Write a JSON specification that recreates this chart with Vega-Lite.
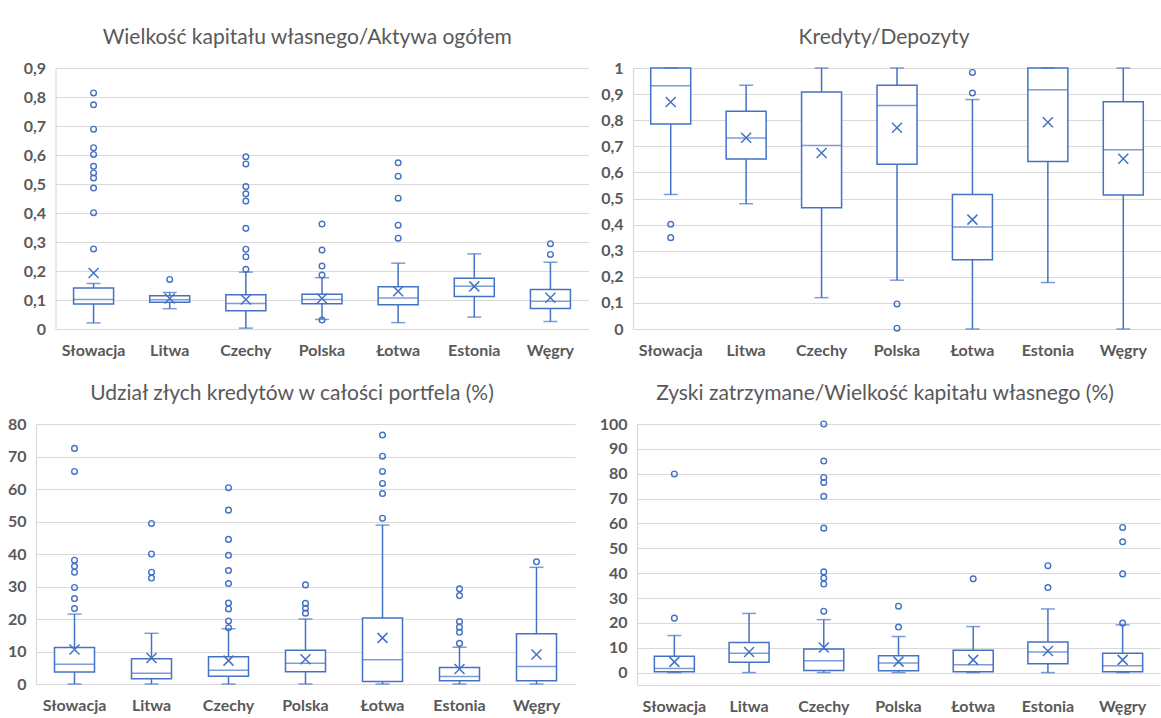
{
  "$schema": "https://vega.github.io/schema/vega-lite/v6.json",
  "background": "white",
  "padding": {"top": 27, "left": 0, "right": 0, "bottom": 0},
  "columns": 1,
  "align": "none",
  "spacing": 14,
  "datasets": {
    "b1": [
      {"country": "Słowacja", "lo": 0.021, "q1": 0.086, "med": 0.102, "q3": 0.141, "hi": 0.157, "mean": 0.193},
      {"country": "Litwa", "lo": 0.070, "q1": 0.092, "med": 0.101, "q3": 0.115, "hi": 0.126, "mean": 0.105},
      {"country": "Czechy", "lo": 0.003, "q1": 0.063, "med": 0.088, "q3": 0.118, "hi": 0.196, "mean": 0.102},
      {"country": "Polska", "lo": 0.033, "q1": 0.087, "med": 0.102, "q3": 0.120, "hi": 0.177, "mean": 0.105},
      {"country": "Łotwa", "lo": 0.022, "q1": 0.084, "med": 0.107, "q3": 0.146, "hi": 0.227, "mean": 0.130},
      {"country": "Estonia", "lo": 0.041, "q1": 0.112, "med": 0.147, "q3": 0.175, "hi": 0.259, "mean": 0.147},
      {"country": "Węgry", "lo": 0.026, "q1": 0.071, "med": 0.096, "q3": 0.136, "hi": 0.230, "mean": 0.108}
    ],
    "o1": [
      {"country": "Słowacja", "v": 0.814}, {"country": "Słowacja", "v": 0.773}, {"country": "Słowacja", "v": 0.689},
      {"country": "Słowacja", "v": 0.625}, {"country": "Słowacja", "v": 0.602}, {"country": "Słowacja", "v": 0.561},
      {"country": "Słowacja", "v": 0.538}, {"country": "Słowacja", "v": 0.521}, {"country": "Słowacja", "v": 0.486},
      {"country": "Słowacja", "v": 0.401}, {"country": "Słowacja", "v": 0.276},
      {"country": "Litwa", "v": 0.171},
      {"country": "Czechy", "v": 0.594}, {"country": "Czechy", "v": 0.569}, {"country": "Czechy", "v": 0.491},
      {"country": "Czechy", "v": 0.466}, {"country": "Czechy", "v": 0.441}, {"country": "Czechy", "v": 0.347},
      {"country": "Czechy", "v": 0.275}, {"country": "Czechy", "v": 0.249}, {"country": "Czechy", "v": 0.206},
      {"country": "Polska", "v": 0.362}, {"country": "Polska", "v": 0.272}, {"country": "Polska", "v": 0.217},
      {"country": "Polska", "v": 0.186}, {"country": "Polska", "v": 0.031},
      {"country": "Łotwa", "v": 0.573}, {"country": "Łotwa", "v": 0.527}, {"country": "Łotwa", "v": 0.451},
      {"country": "Łotwa", "v": 0.358}, {"country": "Łotwa", "v": 0.313},
      {"country": "Węgry", "v": 0.294}, {"country": "Węgry", "v": 0.257}
    ],
    "b2": [
      {"country": "Słowacja", "lo": 0.515, "q1": 0.785, "med": 0.932, "q3": 1.0, "hi": 1.0, "mean": 0.870},
      {"country": "Litwa", "lo": 0.480, "q1": 0.651, "med": 0.732, "q3": 0.834, "hi": 0.934, "mean": 0.733},
      {"country": "Czechy", "lo": 0.120, "q1": 0.465, "med": 0.703, "q3": 0.908, "hi": 1.0, "mean": 0.674},
      {"country": "Polska", "lo": 0.187, "q1": 0.631, "med": 0.856, "q3": 0.934, "hi": 1.0, "mean": 0.771},
      {"country": "Łotwa", "lo": 0.0, "q1": 0.265, "med": 0.391, "q3": 0.515, "hi": 0.879, "mean": 0.419},
      {"country": "Estonia", "lo": 0.178, "q1": 0.642, "med": 0.917, "q3": 1.0, "hi": 1.0, "mean": 0.792},
      {"country": "Węgry", "lo": 0.0, "q1": 0.513, "med": 0.687, "q3": 0.871, "hi": 1.0, "mean": 0.652}
    ],
    "o2": [
      {"country": "Słowacja", "v": 0.401}, {"country": "Słowacja", "v": 0.350},
      {"country": "Polska", "v": 0.096}, {"country": "Polska", "v": 0.003},
      {"country": "Łotwa", "v": 0.983}, {"country": "Łotwa", "v": 0.904}
    ],
    "b3": [
      {"country": "Słowacja", "lo": 0, "q1": 3.7, "med": 6.1, "q3": 11.2, "hi": 21.5, "mean": 10.6},
      {"country": "Litwa", "lo": 0, "q1": 1.6, "med": 3.3, "q3": 7.8, "hi": 15.6, "mean": 8.0},
      {"country": "Czechy", "lo": 0, "q1": 2.4, "med": 4.2, "q3": 8.4, "hi": 17.0, "mean": 7.2},
      {"country": "Polska", "lo": 0, "q1": 3.8, "med": 6.4, "q3": 10.4, "hi": 20.0, "mean": 7.6},
      {"country": "Łotwa", "lo": 0, "q1": 0.8, "med": 7.5, "q3": 20.3, "hi": 48.9, "mean": 14.2},
      {"country": "Estonia", "lo": 0, "q1": 1.0, "med": 2.3, "q3": 5.1, "hi": 11.3, "mean": 4.6},
      {"country": "Węgry", "lo": 0, "q1": 1.0, "med": 5.4, "q3": 15.5, "hi": 35.9, "mean": 9.1}
    ],
    "o3": [
      {"country": "Słowacja", "v": 72.5}, {"country": "Słowacja", "v": 65.4}, {"country": "Słowacja", "v": 38.1},
      {"country": "Słowacja", "v": 36.2}, {"country": "Słowacja", "v": 34.4}, {"country": "Słowacja", "v": 29.7},
      {"country": "Słowacja", "v": 26.3}, {"country": "Słowacja", "v": 23.2},
      {"country": "Litwa", "v": 49.4}, {"country": "Litwa", "v": 40.0}, {"country": "Litwa", "v": 34.4}, {"country": "Litwa", "v": 32.6},
      {"country": "Czechy", "v": 60.4}, {"country": "Czechy", "v": 53.5}, {"country": "Czechy", "v": 44.5},
      {"country": "Czechy", "v": 39.6}, {"country": "Czechy", "v": 34.9}, {"country": "Czechy", "v": 30.9},
      {"country": "Czechy", "v": 24.9}, {"country": "Czechy", "v": 23.1}, {"country": "Czechy", "v": 19.4},
      {"country": "Czechy", "v": 17.3},
      {"country": "Polska", "v": 30.5}, {"country": "Polska", "v": 24.8}, {"country": "Polska", "v": 23.3}, {"country": "Polska", "v": 21.8},
      {"country": "Łotwa", "v": 76.6}, {"country": "Łotwa", "v": 70.1}, {"country": "Łotwa", "v": 65.4},
      {"country": "Łotwa", "v": 61.7}, {"country": "Łotwa", "v": 58.6}, {"country": "Łotwa", "v": 51.0},
      {"country": "Estonia", "v": 29.3}, {"country": "Estonia", "v": 27.2}, {"country": "Estonia", "v": 19.2},
      {"country": "Estonia", "v": 17.5}, {"country": "Estonia", "v": 15.9}, {"country": "Estonia", "v": 12.5},
      {"country": "Węgry", "v": 37.6}
    ],
    "b4": [
      {"country": "Słowacja", "lo": 0, "q1": 0.3, "med": 1.6, "q3": 6.6, "hi": 14.9, "mean": 4.3},
      {"country": "Litwa", "lo": 0, "q1": 4.2, "med": 7.8, "q3": 12.1, "hi": 23.8, "mean": 8.3},
      {"country": "Czechy", "lo": 0, "q1": 0.8, "med": 4.8, "q3": 9.5, "hi": 21.3, "mean": 10.1},
      {"country": "Polska", "lo": 0, "q1": 0.7, "med": 3.9, "q3": 6.8, "hi": 14.5, "mean": 4.4},
      {"country": "Łotwa", "lo": 0, "q1": 0.3, "med": 3.1, "q3": 9.0, "hi": 18.5, "mean": 5.1},
      {"country": "Estonia", "lo": 0, "q1": 3.5, "med": 8.3, "q3": 12.3, "hi": 25.6, "mean": 8.7},
      {"country": "Węgry", "lo": 0, "q1": 0.3, "med": 2.7, "q3": 7.8, "hi": 19.2, "mean": 5.1}
    ],
    "o4": [
      {"country": "Słowacja", "v": 79.9}, {"country": "Słowacja", "v": 21.9},
      {"country": "Czechy", "v": 100}, {"country": "Czechy", "v": 85.1}, {"country": "Czechy", "v": 78.5},
      {"country": "Czechy", "v": 76.5}, {"country": "Czechy", "v": 70.9}, {"country": "Czechy", "v": 58.1},
      {"country": "Czechy", "v": 40.5}, {"country": "Czechy", "v": 38.0}, {"country": "Czechy", "v": 35.6},
      {"country": "Czechy", "v": 24.7},
      {"country": "Polska", "v": 26.7}, {"country": "Polska", "v": 18.3},
      {"country": "Łotwa", "v": 37.7},
      {"country": "Estonia", "v": 43.0}, {"country": "Estonia", "v": 34.2},
      {"country": "Węgry", "v": 58.4}, {"country": "Węgry", "v": 52.6}, {"country": "Węgry", "v": 39.7}, {"country": "Węgry", "v": 19.9}
    ]
  },
  "concat": [
    {
      "spacing": 10,
      "hconcat": [
        {
          "width": 552.5, "height": 261,
          "title": {"text": "Wielkość kapitału własnego/Aktywa ogółem", "dx": -5},
          "layer": [
            {"data": {"name": "b1"}, "mark": {"type": "rule", "color": "#4472C4", "strokeWidth": 1.5},
             "encoding": {
               "x": {"field": "country", "type": "nominal", "title": null, "scale": {"domain": ["Słowacja", "Litwa", "Czechy", "Polska", "Łotwa", "Estonia", "Węgry"], "range": [19.5, 552.5], "paddingInner": 0, "paddingOuter": 0}},
               "y": {"field": "lo", "type": "quantitative", "title": null, "scale": {"domain": [0, 0.9], "nice": false, "zero": false},
                     "axis": {"values": [0, 0.1, 0.2, 0.3, 0.4, 0.5, 0.6, 0.7, 0.8, 0.9], "offset": -19.5, "labelOverlap": false, "labelExpr": "replace(format(datum.value, '.1~f'), '.', ',')"}},
               "y2": {"field": "hi"}}},
            {"data": {"name": "b1"}, "mark": {"type": "bar", "width": 40, "fill": "white", "stroke": "#4472C4", "strokeWidth": 1.5},
             "encoding": {"x": {"field": "country", "type": "nominal", "title": null}, "y": {"field": "q1", "type": "quantitative", "title": null,
                     "axis": {"values": [0, 0.1, 0.2, 0.3, 0.4, 0.5, 0.6, 0.7, 0.8, 0.9], "offset": -19.5, "labelOverlap": false, "labelExpr": "replace(format(datum.value, '.1~f'), '.', ',')"}}, "y2": {"field": "q3"}}},
            {"data": {"name": "b1"}, "mark": {"type": "tick", "size": 40, "thickness": 1.5, "color": "#4472C4"},
             "encoding": {"x": {"field": "country", "type": "nominal", "title": null}, "y": {"field": "med", "type": "quantitative", "title": null,
                     "axis": {"values": [0, 0.1, 0.2, 0.3, 0.4, 0.5, 0.6, 0.7, 0.8, 0.9], "offset": -19.5, "labelOverlap": false, "labelExpr": "replace(format(datum.value, '.1~f'), '.', ',')"}}}},
            {"data": {"name": "b1"}, "mark": {"type": "tick", "size": 14, "thickness": 1.5, "color": "#4472C4"},
             "encoding": {"x": {"field": "country", "type": "nominal", "title": null}, "y": {"field": "lo", "type": "quantitative", "title": null,
                     "axis": {"values": [0, 0.1, 0.2, 0.3, 0.4, 0.5, 0.6, 0.7, 0.8, 0.9], "offset": -19.5, "labelOverlap": false, "labelExpr": "replace(format(datum.value, '.1~f'), '.', ',')"}}}},
            {"data": {"name": "b1"}, "mark": {"type": "tick", "size": 14, "thickness": 1.5, "color": "#4472C4"},
             "encoding": {"x": {"field": "country", "type": "nominal", "title": null}, "y": {"field": "hi", "type": "quantitative", "title": null,
                     "axis": {"values": [0, 0.1, 0.2, 0.3, 0.4, 0.5, 0.6, 0.7, 0.8, 0.9], "offset": -19.5, "labelOverlap": false, "labelExpr": "replace(format(datum.value, '.1~f'), '.', ',')"}}}},
            {"data": {"name": "b1"}, "mark": {"type": "point", "shape": "M-1,-1L1,1M-1,1L1,-1", "size": 100, "filled": false, "strokeWidth": 1.5, "color": "#4472C4", "opacity": 1},
             "encoding": {"x": {"field": "country", "type": "nominal", "title": null}, "y": {"field": "mean", "type": "quantitative", "title": null,
                     "axis": {"values": [0, 0.1, 0.2, 0.3, 0.4, 0.5, 0.6, 0.7, 0.8, 0.9], "offset": -19.5, "labelOverlap": false, "labelExpr": "replace(format(datum.value, '.1~f'), '.', ',')"}}}},
            {"data": {"name": "o1"}, "mark": {"type": "point", "shape": "circle", "size": 32, "filled": false, "strokeWidth": 1.4, "color": "#4472C4", "opacity": 1},
             "encoding": {"x": {"field": "country", "type": "nominal", "title": null}, "y": {"field": "v", "type": "quantitative", "title": null,
                     "axis": {"values": [0, 0.1, 0.2, 0.3, 0.4, 0.5, 0.6, 0.7, 0.8, 0.9], "offset": -19.5, "labelOverlap": false, "labelExpr": "replace(format(datum.value, '.1~f'), '.', ',')"}}}}
          ]
        },
        {
          "width": 528, "height": 261,
          "title": {"text": "Kredyty/Depozyty", "dx": -13},
          "layer": [
            {"data": {"name": "b2"}, "mark": {"type": "rule", "color": "#4472C4", "strokeWidth": 1.5},
             "encoding": {
               "x": {"field": "country", "type": "nominal", "title": null, "scale": {"domain": ["Słowacja", "Litwa", "Czechy", "Polska", "Łotwa", "Estonia", "Węgry"], "paddingInner": 0, "paddingOuter": 0}},
               "y": {"field": "lo", "type": "quantitative", "title": null, "scale": {"domain": [0, 1], "nice": false, "zero": false},
                     "axis": {"values": [0, 0.1, 0.2, 0.3, 0.4, 0.5, 0.6, 0.7, 0.8, 0.9, 1], "minExtent": 33.5, "labelOverlap": false, "labelExpr": "replace(format(datum.value, '.1~f'), '.', ',')"}},
               "y2": {"field": "hi"}}},
            {"data": {"name": "b2"}, "mark": {"type": "bar", "width": 40, "fill": "white", "stroke": "#4472C4", "strokeWidth": 1.5},
             "encoding": {"x": {"field": "country", "type": "nominal", "title": null}, "y": {"field": "q1", "type": "quantitative", "title": null,
                     "axis": {"values": [0, 0.1, 0.2, 0.3, 0.4, 0.5, 0.6, 0.7, 0.8, 0.9, 1], "minExtent": 33.5, "labelOverlap": false, "labelExpr": "replace(format(datum.value, '.1~f'), '.', ',')"}}, "y2": {"field": "q3"}}},
            {"data": {"name": "b2"}, "mark": {"type": "tick", "size": 40, "thickness": 1.5, "color": "#4472C4"},
             "encoding": {"x": {"field": "country", "type": "nominal", "title": null}, "y": {"field": "med", "type": "quantitative", "title": null,
                     "axis": {"values": [0, 0.1, 0.2, 0.3, 0.4, 0.5, 0.6, 0.7, 0.8, 0.9, 1], "minExtent": 33.5, "labelOverlap": false, "labelExpr": "replace(format(datum.value, '.1~f'), '.', ',')"}}}},
            {"data": {"name": "b2"}, "mark": {"type": "tick", "size": 14, "thickness": 1.5, "color": "#4472C4"},
             "encoding": {"x": {"field": "country", "type": "nominal", "title": null}, "y": {"field": "lo", "type": "quantitative", "title": null,
                     "axis": {"values": [0, 0.1, 0.2, 0.3, 0.4, 0.5, 0.6, 0.7, 0.8, 0.9, 1], "minExtent": 33.5, "labelOverlap": false, "labelExpr": "replace(format(datum.value, '.1~f'), '.', ',')"}}}},
            {"data": {"name": "b2"}, "mark": {"type": "tick", "size": 14, "thickness": 1.5, "color": "#4472C4"},
             "encoding": {"x": {"field": "country", "type": "nominal", "title": null}, "y": {"field": "hi", "type": "quantitative", "title": null,
                     "axis": {"values": [0, 0.1, 0.2, 0.3, 0.4, 0.5, 0.6, 0.7, 0.8, 0.9, 1], "minExtent": 33.5, "labelOverlap": false, "labelExpr": "replace(format(datum.value, '.1~f'), '.', ',')"}}}},
            {"data": {"name": "b2"}, "mark": {"type": "point", "shape": "M-1,-1L1,1M-1,1L1,-1", "size": 100, "filled": false, "strokeWidth": 1.5, "color": "#4472C4", "opacity": 1},
             "encoding": {"x": {"field": "country", "type": "nominal", "title": null}, "y": {"field": "mean", "type": "quantitative", "title": null,
                     "axis": {"values": [0, 0.1, 0.2, 0.3, 0.4, 0.5, 0.6, 0.7, 0.8, 0.9, 1], "minExtent": 33.5, "labelOverlap": false, "labelExpr": "replace(format(datum.value, '.1~f'), '.', ',')"}}}},
            {"data": {"name": "o2"}, "mark": {"type": "point", "shape": "circle", "size": 32, "filled": false, "strokeWidth": 1.4, "color": "#4472C4", "opacity": 1},
             "encoding": {"x": {"field": "country", "type": "nominal", "title": null}, "y": {"field": "v", "type": "quantitative", "title": null,
                     "axis": {"values": [0, 0.1, 0.2, 0.3, 0.4, 0.5, 0.6, 0.7, 0.8, 0.9, 1], "minExtent": 33.5, "labelOverlap": false, "labelExpr": "replace(format(datum.value, '.1~f'), '.', ',')"}}}}
          ]
        }
      ]
    },
    {
      "spacing": 10,
      "hconcat": [
        {
          "width": 539, "height": 260,
          "title": {"text": "Udział złych kredytów w całości portfela (%)", "dx": -13.5},
          "layer": [
            {"data": {"name": "b3"}, "mark": {"type": "rule", "color": "#4472C4", "strokeWidth": 1.5},
             "encoding": {
               "x": {"field": "country", "type": "nominal", "title": null, "scale": {"domain": ["Słowacja", "Litwa", "Czechy", "Polska", "Łotwa", "Estonia", "Węgry"], "paddingInner": 0, "paddingOuter": 0}},
               "y": {"field": "lo", "type": "quantitative", "title": null, "scale": {"domain": [0, 80], "nice": false, "zero": false},
                     "axis": {"values": [0, 10, 20, 30, 40, 50, 60, 70, 80], "minExtent": 36, "labelOverlap": false}},
               "y2": {"field": "hi"}}},
            {"data": {"name": "b3"}, "mark": {"type": "bar", "width": 40, "fill": "white", "stroke": "#4472C4", "strokeWidth": 1.5},
             "encoding": {"x": {"field": "country", "type": "nominal", "title": null}, "y": {"field": "q1", "type": "quantitative", "title": null,
                     "axis": {"values": [0, 10, 20, 30, 40, 50, 60, 70, 80], "minExtent": 36, "labelOverlap": false}}, "y2": {"field": "q3"}}},
            {"data": {"name": "b3"}, "mark": {"type": "tick", "size": 40, "thickness": 1.5, "color": "#4472C4"},
             "encoding": {"x": {"field": "country", "type": "nominal", "title": null}, "y": {"field": "med", "type": "quantitative", "title": null,
                     "axis": {"values": [0, 10, 20, 30, 40, 50, 60, 70, 80], "minExtent": 36, "labelOverlap": false}}}},
            {"data": {"name": "b3"}, "mark": {"type": "tick", "size": 14, "thickness": 1.5, "color": "#4472C4"},
             "encoding": {"x": {"field": "country", "type": "nominal", "title": null}, "y": {"field": "lo", "type": "quantitative", "title": null,
                     "axis": {"values": [0, 10, 20, 30, 40, 50, 60, 70, 80], "minExtent": 36, "labelOverlap": false}}}},
            {"data": {"name": "b3"}, "mark": {"type": "tick", "size": 14, "thickness": 1.5, "color": "#4472C4"},
             "encoding": {"x": {"field": "country", "type": "nominal", "title": null}, "y": {"field": "hi", "type": "quantitative", "title": null,
                     "axis": {"values": [0, 10, 20, 30, 40, 50, 60, 70, 80], "minExtent": 36, "labelOverlap": false}}}},
            {"data": {"name": "b3"}, "mark": {"type": "point", "shape": "M-1,-1L1,1M-1,1L1,-1", "size": 100, "filled": false, "strokeWidth": 1.5, "color": "#4472C4", "opacity": 1},
             "encoding": {"x": {"field": "country", "type": "nominal", "title": null}, "y": {"field": "mean", "type": "quantitative", "title": null,
                     "axis": {"values": [0, 10, 20, 30, 40, 50, 60, 70, 80], "minExtent": 36, "labelOverlap": false}}}},
            {"data": {"name": "o3"}, "mark": {"type": "point", "shape": "circle", "size": 32, "filled": false, "strokeWidth": 1.4, "color": "#4472C4", "opacity": 1},
             "encoding": {"x": {"field": "country", "type": "nominal", "title": null}, "y": {"field": "v", "type": "quantitative", "title": null,
                     "axis": {"values": [0, 10, 20, 30, 40, 50, 60, 70, 80], "minExtent": 36, "labelOverlap": false}}}}
          ]
        },
        {
          "width": 523, "height": 261,
          "title": {"text": "Zyski zatrzymane/Wielkość kapitału własnego  (%)", "dx": -13.5},
          "layer": [
            {"data": {"name": "b4"}, "mark": {"type": "rule", "color": "#4472C4", "strokeWidth": 1.5},
             "encoding": {
               "x": {"field": "country", "type": "nominal", "title": null, "scale": {"domain": ["Słowacja", "Litwa", "Czechy", "Polska", "Łotwa", "Estonia", "Węgry"], "paddingInner": 0, "paddingOuter": 0}},
               "y": {"field": "lo", "type": "quantitative", "title": null, "scale": {"domain": [-5, 100], "nice": false, "zero": false},
                     "axis": {"values": [0, 10, 20, 30, 40, 50, 60, 70, 80, 90, 100], "minExtent": 52, "labelOverlap": false}},
               "y2": {"field": "hi"}}},
            {"data": {"name": "b4"}, "mark": {"type": "bar", "width": 40, "fill": "white", "stroke": "#4472C4", "strokeWidth": 1.5},
             "encoding": {"x": {"field": "country", "type": "nominal", "title": null}, "y": {"field": "q1", "type": "quantitative", "title": null,
                     "axis": {"values": [0, 10, 20, 30, 40, 50, 60, 70, 80, 90, 100], "minExtent": 52, "labelOverlap": false}}, "y2": {"field": "q3"}}},
            {"data": {"name": "b4"}, "mark": {"type": "tick", "size": 40, "thickness": 1.5, "color": "#4472C4"},
             "encoding": {"x": {"field": "country", "type": "nominal", "title": null}, "y": {"field": "med", "type": "quantitative", "title": null,
                     "axis": {"values": [0, 10, 20, 30, 40, 50, 60, 70, 80, 90, 100], "minExtent": 52, "labelOverlap": false}}}},
            {"data": {"name": "b4"}, "mark": {"type": "tick", "size": 14, "thickness": 1.5, "color": "#4472C4"},
             "encoding": {"x": {"field": "country", "type": "nominal", "title": null}, "y": {"field": "lo", "type": "quantitative", "title": null,
                     "axis": {"values": [0, 10, 20, 30, 40, 50, 60, 70, 80, 90, 100], "minExtent": 52, "labelOverlap": false}}}},
            {"data": {"name": "b4"}, "mark": {"type": "tick", "size": 14, "thickness": 1.5, "color": "#4472C4"},
             "encoding": {"x": {"field": "country", "type": "nominal", "title": null}, "y": {"field": "hi", "type": "quantitative", "title": null,
                     "axis": {"values": [0, 10, 20, 30, 40, 50, 60, 70, 80, 90, 100], "minExtent": 52, "labelOverlap": false}}}},
            {"data": {"name": "b4"}, "mark": {"type": "point", "shape": "M-1,-1L1,1M-1,1L1,-1", "size": 100, "filled": false, "strokeWidth": 1.5, "color": "#4472C4", "opacity": 1},
             "encoding": {"x": {"field": "country", "type": "nominal", "title": null}, "y": {"field": "mean", "type": "quantitative", "title": null,
                     "axis": {"values": [0, 10, 20, 30, 40, 50, 60, 70, 80, 90, 100], "minExtent": 52, "labelOverlap": false}}}},
            {"data": {"name": "o4"}, "mark": {"type": "point", "shape": "circle", "size": 32, "filled": false, "strokeWidth": 1.4, "color": "#4472C4", "opacity": 1},
             "encoding": {"x": {"field": "country", "type": "nominal", "title": null}, "y": {"field": "v", "type": "quantitative", "title": null,
                     "axis": {"values": [0, 10, 20, 30, 40, 50, 60, 70, 80, 90, 100], "minExtent": 52, "labelOverlap": false}}}}
          ]
        }
      ]
    }
  ],
  "config": {
    "view": {"stroke": null},
    "font": "Lato",
    "title": {"font": "Lato", "fontSize": 21, "fontWeight": "normal", "color": "#595959", "offset": 12, "anchor": "middle", "frame": "group"},
    "axis": {"labelFont": "Lato", "labelFontWeight": "bold", "labelColor": "#595959", "labelFontSize": 16, "labelOverlap": false, "gridColor": "#d9d9d9", "gridWidth": 1.2, "domainColor": "#d9d9d9", "domainWidth": 1.2, "ticks": false},
    "axisX": {"grid": false, "labelAngle": 0, "labelPadding": 13, "minExtent": 40, "maxExtent": 40},
    "axisY": {"grid": true, "domain": true, "labelPadding": 10}
  }
}
